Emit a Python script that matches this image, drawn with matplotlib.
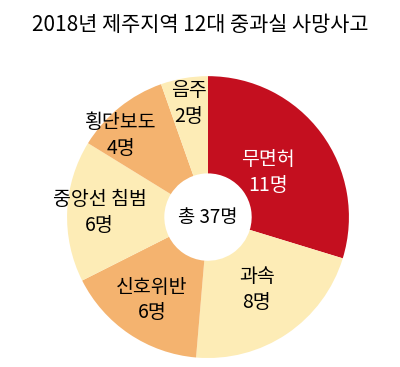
import matplotlib
matplotlib.use("Agg")
import matplotlib.pyplot as plt
import numpy as np

plt.rcParams['font.family'] = ['Noto Sans CJK KR', 'DejaVu Sans']

title = "2018년 제주지역 12대 중과실 사망사고"
categories = ["무면허", "과속", "신호위반", "중앙선 침범", "횡단보도", "음주"]
values = [11, 8, 6, 6, 4, 2]
unit = "명"
center_label = "총 37명"

colors = ["#C40F1F", "#FDECB6", "#F4B36F", "#FDECB6", "#F4B36F", "#FDECB6"]
text_colors = ["white", "black", "black", "black", "black", "black"]
label_r = [0.53, 0.62, 0.71, 0.77, 0.85, 0.82]
angle_tweak = [0, 0, 0, 0, -8, 0]

fig = plt.figure(figsize=(4.0, 3.67), dpi=100)
fig.patch.set_facecolor("white")
ax = fig.add_axes([0.1675, 0.0245, 0.705, 0.768])

wedges, _ = ax.pie(values, colors=colors, startangle=90, counterclock=False,
                   radius=1.0, wedgeprops=dict(width=0.69, linewidth=0))
ax.set_xlim(-1, 1)
ax.set_ylim(-1, 1)
ax.set_aspect("equal")
ax.axis("off")

total = sum(values)
cum = 0
for i, (c, v) in enumerate(zip(categories, values)):
    mid = (cum + v / 2) / total * 360 + angle_tweak[i]
    cum += v
    th = np.deg2rad(90 - mid)
    x, y = label_r[i] * np.cos(th), label_r[i] * np.sin(th)
    ax.text(x, y, f"{c}\n{v}{unit}", ha="center", va="center", fontsize=14,
            color=text_colors[i], linespacing=1.3, fontweight="medium")

ax.text(0, 0, center_label, ha="center", va="center", fontsize=13.5,
        color="black", fontweight="medium")

fig.text(0.5, 0.932, title, ha="center", va="center", fontsize=15,
         color="black", fontweight="medium")

fig.savefig("out.png", dpi=100, facecolor="white")
